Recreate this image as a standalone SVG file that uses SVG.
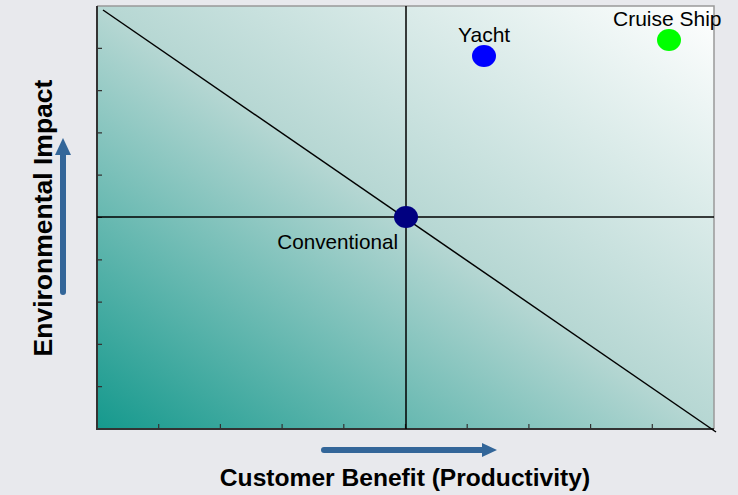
<svg xmlns="http://www.w3.org/2000/svg" width="738" height="495" viewBox="0 0 738 495">
<defs>
<linearGradient id="bg" x1="0" y1="1" x2="1" y2="0">
<stop offset="0" stop-color="#15998d"/>
<stop offset="0.5" stop-color="#b6d7d3"/>
<stop offset="1" stop-color="#ffffff"/>
</linearGradient>
<style>
.lbl{font-family:"Liberation Sans",Arial,sans-serif;fill:#000}
.ax{font-family:"Liberation Sans",Arial,sans-serif;font-weight:bold;fill:#000}
.tick{stroke:#333;stroke-width:1.2}
.grid{stroke:#000;stroke-width:1.5;fill:none}
.arr{stroke:#336699;stroke-width:6;stroke-linecap:round}
</style>
</defs>
<rect width="738" height="495" fill="#e8e9ed"/>
<g id="plot">
<rect x="97" y="6" width="617" height="423" fill="url(#bg)"/>
<path d="M97 6H714V429" fill="none" stroke="#999" stroke-width="1.5"/>
<path d="M97 6V429H714" fill="none" stroke="#333" stroke-width="2"/>
<path class="tick" d="M97 48.3h5M97 90.6h5M97 132.9h5M97 175.2h5M97 217.5h5M97 259.8h5M97 302.1h5M97 344.4h5M97 386.7h5M158.7 429v-5M220.4 429v-5M282.1 429v-5M343.8 429v-5M405.5 429v-5M467.2 429v-5M528.9 429v-5M590.6 429v-5M652.3 429v-5"/>
</g>
<g id="connectors">
<line class="grid" x1="406" y1="6" x2="406" y2="429"/>
<line class="grid" x1="97" y1="217" x2="714" y2="217"/>
<line class="grid" x1="103" y1="10" x2="716" y2="432"/>
</g>
<g id="conventional">
<ellipse cx="406" cy="217" rx="12" ry="11" fill="#000080"/>
<text class="lbl" x="398" y="249" font-size="20.7" text-anchor="end">Conventional</text>
</g>
<g id="yacht">
<ellipse cx="484" cy="56" rx="12" ry="11" fill="#0000ff"/>
<text class="lbl" x="458" y="42" font-size="21">Yacht</text>
</g>
<g id="cruise">
<ellipse cx="669" cy="40" rx="12" ry="11" fill="#00ff00"/>
<text class="lbl" x="613" y="26" font-size="21">Cruise Ship</text>
</g>
<g id="y-axis-label">
<line class="arr" x1="63" y1="292" x2="63" y2="154"/>
<polygon points="63,138 71,155 55,155" fill="#336699"/>
<text class="ax" transform="translate(52 218) rotate(-90)" font-size="26.5" text-anchor="middle">Environmental Impact</text>
</g>
<g id="x-axis-label">
<line class="arr" x1="324" y1="450" x2="483" y2="450"/>
<polygon points="497,450 482,443 482,457" fill="#336699"/>
<text class="ax" x="405" y="486" font-size="24.6" text-anchor="middle">Customer Benefit (Productivity)</text>
</g>
</svg>
